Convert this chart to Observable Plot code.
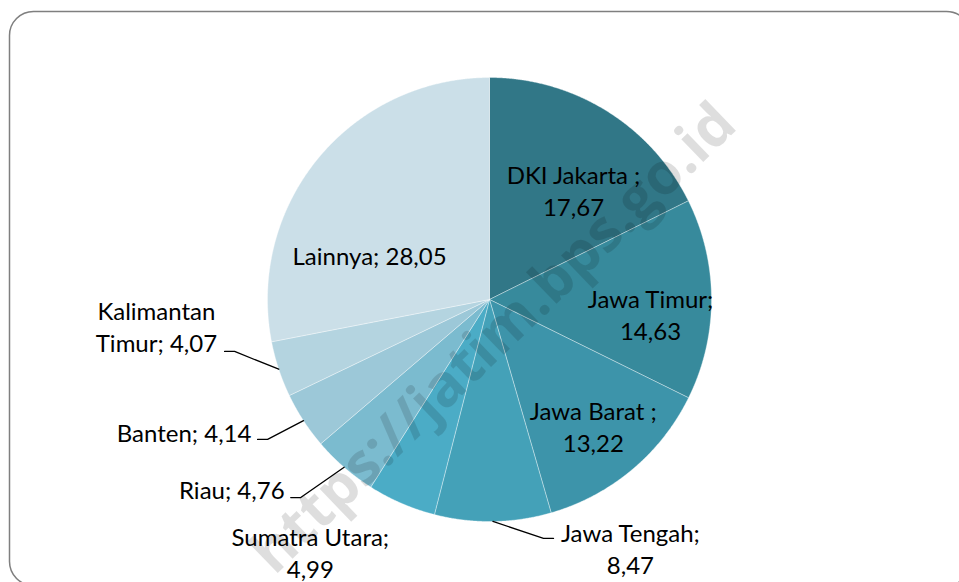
<!DOCTYPE html>
<html><head><meta charset="utf-8">
<script src="https://cdn.jsdelivr.net/npm/d3@7"></script>
<script src="https://cdn.jsdelivr.net/npm/@observablehq/plot@0.6"></script>
<style>body{margin:0;background:#fff} #chart{width:959px;height:582px;overflow:hidden}</style>
</head><body><div id="chart"></div>
<script>
// ---- data ----
const provinces = ["DKI Jakarta","Jawa Timur","Jawa Barat","Jawa Tengah","Sumatra Utara","Riau","Banten","Kalimantan Timur","Lainnya"];
const shares = [17.67,14.63,13.22,8.47,4.99,4.76,4.14,4.07,28.05];
const labelTexts = ["DKI Jakarta ;\n17,67","Jawa Timur;\n14,63","Jawa Barat ;\n13,22","Jawa Tengah;\n8,47","Sumatra Utara;\n4,99","Riau; 4,76","Banten; 4,14","Kalimantan\nTimur; 4,07","Lainnya; 28,05"];
const watermark = "https://jatim.bps.go.id";

// ---- styles / layout ----
const sliceColors = ["#317787","#378a9c","#3d94aa","#44a1b8","#4bacc6","#7bbbcf","#9cc8d8","#b4d4e0","#cbdfe8"];
const labelAngle  = [37.4, 95, 140.5, 150.4, 215.4, 227.3, 241.0, 265.45, 290.6];
const labelRadius = [0.623, 0.728, 0.735, 1.285, 1.393, 1.256, 1.226, 1.505, 0.577];
const labelAnchor = ["middle","middle","middle","middle","middle","end","end","middle","middle"];
const leaderAngle  = [null, null, null, 165.0, null, 225.1, 238.9, 258.9, null];
const leaderRadius = [null, null, null, 1.114, null, 1.264, 1.220, 1.216, null];

const W = 959, H = 582, CX = 489, CY = 299, R = 222;
const deg = Math.PI / 180;
const polar = (a, r) => ({x: r * Math.sin(a), y: r * Math.cos(a)});

const arcs = d3.pie().sort(null).value(d => d)(shares);
const slicePts = [];
arcs.forEach((a, i) => {
  const name = provinces[i];
  slicePts.push({name, x: 0, y: 0});
  const n = Math.max(4, Math.ceil((a.endAngle - a.startAngle) / (0.25 * deg)));
  for (let k = 0; k <= n; k++) {
    const t = a.startAngle + (a.endAngle - a.startAngle) * k / n;
    slicePts.push({name, ...polar(t, 1)});
  }
  slicePts.push({name, x: 0, y: 0});
});

const labels = provinces.map((name, i) => ({
  name, text: labelTexts[i], anchor: labelAnchor[i], ...polar(labelAngle[i] * deg, labelRadius[i])
}));

const leaderPts = [];
arcs.forEach((a, i) => {
  if (leaderAngle[i] == null) return;
  const mid = (a.startAngle + a.endAngle) / 2;
  const s = polar(mid, 1);
  const e = polar(leaderAngle[i] * deg, leaderRadius[i]);
  const step = 10 / R;
  const elbow = {x: e.x + (s.x < e.x ? -step : step), y: e.y};
  leaderPts.push({name: provinces[i], ...s}, {name: provinces[i], ...elbow}, {name: provinces[i], ...e});
});

const fontFam = "Lato, 'Open Sans', sans-serif";
const textOpts = {x: "x", y: "y", text: "text", fontSize: 24, lineHeight: 1.33, fill: "#000"};
const chart = Plot.plot({
  width: W, height: H,
  margin: 0,
  style: {fontFamily: fontFam, background: "#fff", overflow: "hidden"},
  x: {domain: [-1, 1], range: [CX - R, CX + R], axis: null},
  y: {domain: [-1, 1], range: [CY + R, CY - R], axis: null},
  color: {domain: provinces, range: sliceColors},
  marks: [
    Plot.line(slicePts, {x: "x", y: "y", z: "name", fill: "name", stroke: "#ffffff", strokeOpacity: 0.45, strokeWidth: 0.8, curve: "linear"}),
    Plot.text([watermark], {text: d => d, frameAnchor: "middle", dx: 14, dy: 47, rotate: -44, fontSize: 58, fontWeight: "bold", fill: "#000", fillOpacity: 0.13, fontFamily: "'Open Sans', sans-serif"}),
    Plot.line(leaderPts, {x: "x", y: "y", z: "name", stroke: "#000", strokeWidth: 1.3, curve: "linear"}),
    Plot.text(labels.filter(d => d.anchor === "middle"), {...textOpts, textAnchor: "middle"}),
    Plot.text(labels.filter(d => d.anchor === "end"), {...textOpts, textAnchor: "end"}),
    Plot.frame({stroke: "#7f7f7f", strokeWidth: 1.5, rx: 24, insetLeft: 9, insetTop: 11, insetRight: -11, insetBottom: -3})
  ]
});
document.getElementById("chart").append(chart);
</script>
</body></html>
